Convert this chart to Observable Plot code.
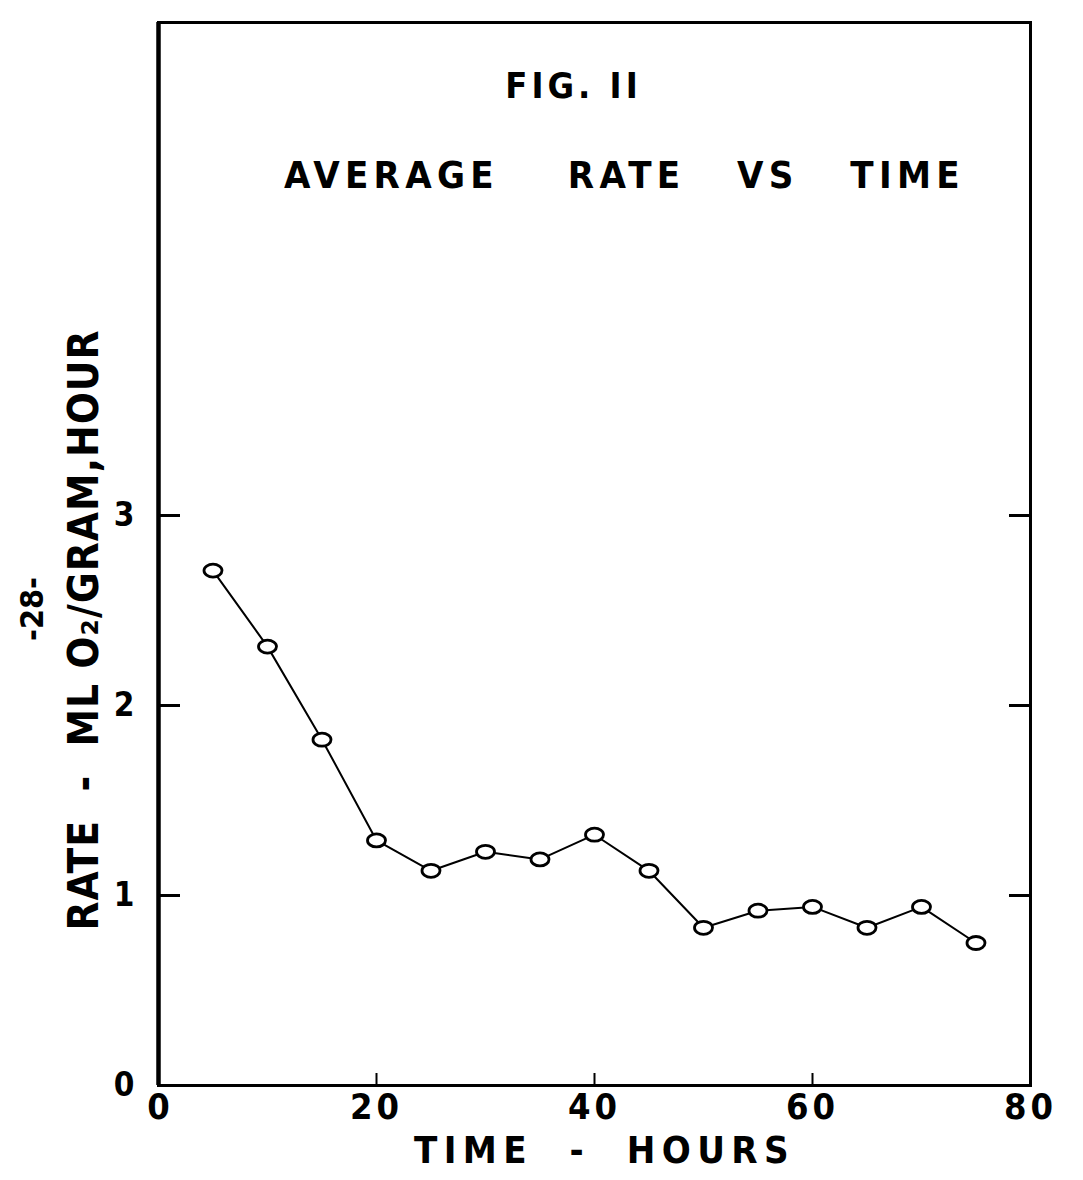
<!DOCTYPE html>
<html>
<head>
<meta charset="utf-8">
<script src="https://cdn.jsdelivr.net/npm/d3@7"></script>
<script src="https://cdn.jsdelivr.net/npm/@observablehq/plot@0.6"></script>
<style>
  html, body { margin: 0; padding: 0; background: #fff; }
  svg { display: block; }
</style>
</head>
<body>
<div id="chart"></div>
<script>
// Data
const hours = [5, 10, 15, 20, 25, 30, 35, 40, 45, 50, 55, 60, 65, 70, 75];
const rate  = [2.71, 2.31, 1.82, 1.29, 1.13, 1.23, 1.19, 1.32, 1.13, 0.83, 0.92, 0.94, 0.83, 0.94, 0.75];
const xTickLabels = [0, 20, 40, 60, 80];
const xInnerTicks = [20, 40, 60];
const yTickLabels = [0, 1, 2, 3];
const yInnerTicks = [1, 2, 3];
const figLabel = "FIG. II";
const titleText = "AVERAGE    RATE   VS   TIME";
const xLabel = "TIME  -  HOURS";
const yLabel = "RATE  -  ML O\u2082/GRAM,HOUR";
const pageNumber = "-28-";

const data = hours.map((h, i) => ({hours: h, rate: rate[i]}));
const font = "'DejaVu Sans Condensed', 'DejaVu Sans', sans-serif";

// open elliptical marker, as drawn by hand in the original
const ellipse = {
  draw(ctx) {
    const rx = 9, ry = 6.5, k = 0.5523;
    ctx.moveTo(rx, 0);
    ctx.bezierCurveTo(rx, ry * k, rx * k, ry, 0, ry);
    ctx.bezierCurveTo(-rx * k, ry, -rx, ry * k, -rx, 0);
    ctx.bezierCurveTo(-rx, -ry * k, -rx * k, -ry, 0, -ry);
    ctx.bezierCurveTo(rx * k, -ry, rx, -ry * k, rx, 0);
    ctx.closePath();
  }
};

const chart = Plot.plot({
  width: 1083,
  height: 1180,
  marginLeft: 158,
  marginRight: 53,
  marginTop: 22,
  marginBottom: 95,
  style: {fontFamily: font, color: "#000", background: "#fff"},
  x: {domain: [0, 80]},
  y: {domain: [0, 5.595]},
  marks: [
    Plot.frame({stroke: "#000", strokeWidth: 3}),
    Plot.ruleX([0], {stroke: "#000", strokeWidth: 4.5}),
    // inward ticks
    Plot.axisY(yInnerTicks, {anchor: "left", tickSize: -22, strokeWidth: 3, text: null, label: null}),
    Plot.axisY(yInnerTicks, {anchor: "right", tickSize: -22, strokeWidth: 3, text: null, label: null}),
    Plot.axisX(xInnerTicks, {anchor: "bottom", tickSize: -12, strokeWidth: 2, text: null, label: null}),
    // tick labels
    Plot.axisY(yTickLabels, {anchor: "left", tickSize: 0, tickPadding: 24, fontSize: 33, fontWeight: "bold", label: null, tickFormat: d => String(d)}),
    Plot.axisX(xTickLabels, {anchor: "bottom", tickSize: 0, tickPadding: 8, fontSize: 36, fontWeight: "bold", label: null, tickFormat: d => String(d)}),
    // series
    Plot.line(data, {x: "hours", y: "rate", stroke: "#000", strokeWidth: 2}),
    Plot.dot(data, {x: "hours", y: "rate", symbol: ellipse, stroke: "#000", strokeWidth: 2.8, fill: "#fff"}),
    // titles
    Plot.text([figLabel], {frameAnchor: "top", lineAnchor: "middle", dx: -21, dy: 64, fontSize: 36, fontWeight: "bold", fill: "#000"}),
    Plot.text([titleText], {frameAnchor: "top", lineAnchor: "middle", dx: 30, dy: 153, fontSize: 38, fontWeight: "bold", fill: "#000"}),
    Plot.text([xLabel], {frameAnchor: "bottom", lineAnchor: "middle", dx: 10, dy: 65, fontSize: 38, fontWeight: "bold", fill: "#000"}),
    Plot.text([yLabel], {frameAnchor: "left", textAnchor: "middle", lineAnchor: "middle", rotate: -90, dx: -74, dy: 76, fontSize: 42, fontWeight: "bold", fill: "#000"}),
    Plot.text([pageNumber], {frameAnchor: "left", textAnchor: "middle", lineAnchor: "middle", rotate: -90, dx: -126, dy: 55, fontSize: 32, fontWeight: "bold", fill: "#000"})
  ]
});

// letter spacing of the hand lettering
const spacing = new Map([
  [figLabel, "4px"],
  [titleText, "5.3px"],
  [xLabel, "6.4px"],
  [yLabel, "1px"],
  ["20", "4px"], ["40", "4px"], ["60", "4px"], ["80", "4px"]
]);
d3.select(chart).selectAll("text").each(function () {
  const s = spacing.get(this.textContent);
  if (s) this.style.letterSpacing = s;
});
document.getElementById("chart").appendChild(chart);
</script>
</body>
</html>
